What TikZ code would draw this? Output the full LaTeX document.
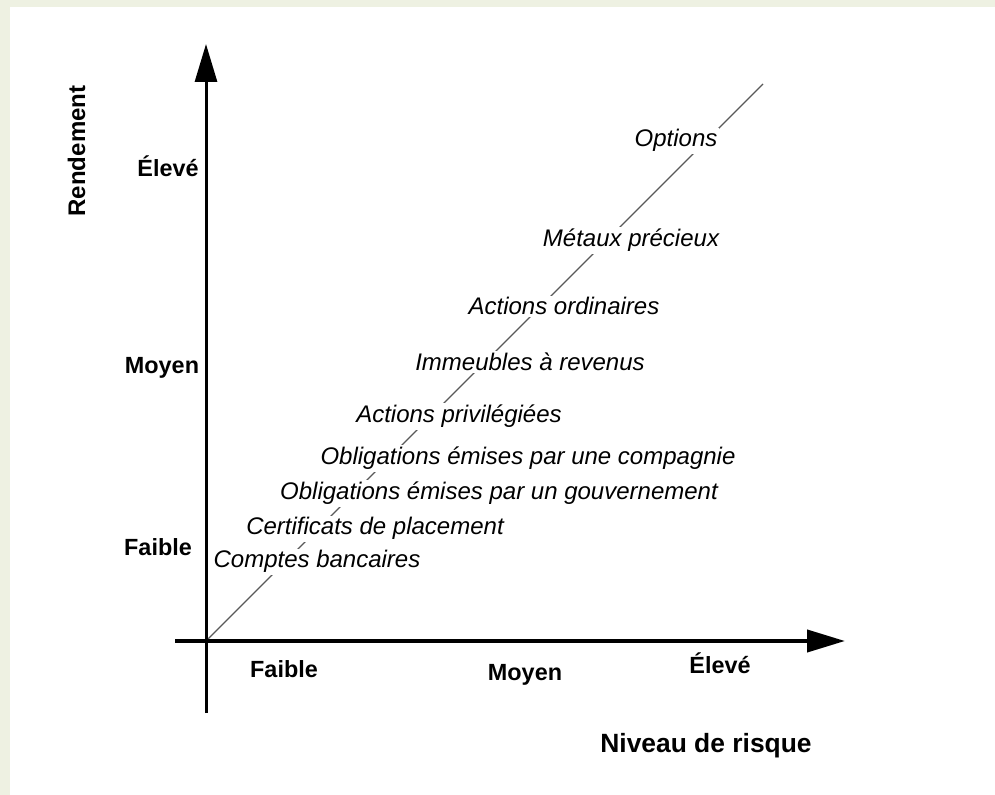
\documentclass[tikz,border=0pt]{standalone}
\usepackage{fontspec}
\setmainfont{Liberation Sans}
\usetikzlibrary{arrows.meta}
\definecolor{creme}{RGB}{238,241,226}

\begin{document}
\begin{tikzpicture}[x=0.5pt,y=-0.5pt,
  titre/.style={anchor=base,font=\fontsize{12}{14}\selectfont\bfseries},
  niveau/.style={anchor=base,font=\fontsize{11.7}{14}\selectfont\bfseries},
  actif/.style={anchor=base,fill=white,inner sep=1pt,font=\fontsize{12}{14}\selectfont\itshape},
  axe/.style={-{Triangle[length=19pt,width=11pt]}}]
\fill[creme] (0,0) rectangle (995,795);
\fill[white] (10,7) rectangle (995,795);
\useasboundingbox (0,0) rectangle (995,795);

\coordinate (O) at (206,641);
\coordinate (xdeb) at (175,641);
\coordinate (xfin) at (845,641);
\coordinate (ydeb) at (206,713);
\coordinate (yfin) at (206,44);
\coordinate (dfin) at (763,84);

\draw[black!65, line width=0.6pt] (O) -- (dfin);

\node[actif] (options) at (676,147) {Options};
\node[actif] (metaux) at (631,247) {Métaux précieux};
\node[actif] (actord) at (564,315) {Actions ordinaires};
\node[actif] (immeubles) at (530,371) {Immeubles à revenus};
\node[actif] (actpriv) at (459,423) {Actions privilégiées};
\node[actif] (oblcie) at (528,465) {Obligations émises par une compagnie};
\node[actif] (oblgouv) at (499,500) {Obligations émises par un gouvernement};
\node[actif] (certif) at (375,535) {Certificats de placement};
\node[actif] (comptes) at (317,568) {Comptes bancaires};

\node[niveau] (yeleve) at (168,177) {Élevé};
\node[niveau] (ymoyen) at (162,374) {Moyen};
\node[niveau] (yfaible) at (158,556) {Faible};
\node[niveau] (xfaible) at (284,677) {Faible};
\node[niveau] (xmoyen) at (525,680) {Moyen};
\node[niveau] (xeleve) at (720,673) {Élevé};

\node[titre, rotate=90] (rendement) at (85,151) {Rendement};
\node[titre, font=\fontsize{13.2}{15}\selectfont\bfseries] (risque) at (706,752) {Niveau de risque};

\draw[axe, line width=1.5pt] (ydeb) -- (yfin);
\draw[axe, line width=2pt] (xdeb) -- (xfin);
\end{tikzpicture}
\end{document}
